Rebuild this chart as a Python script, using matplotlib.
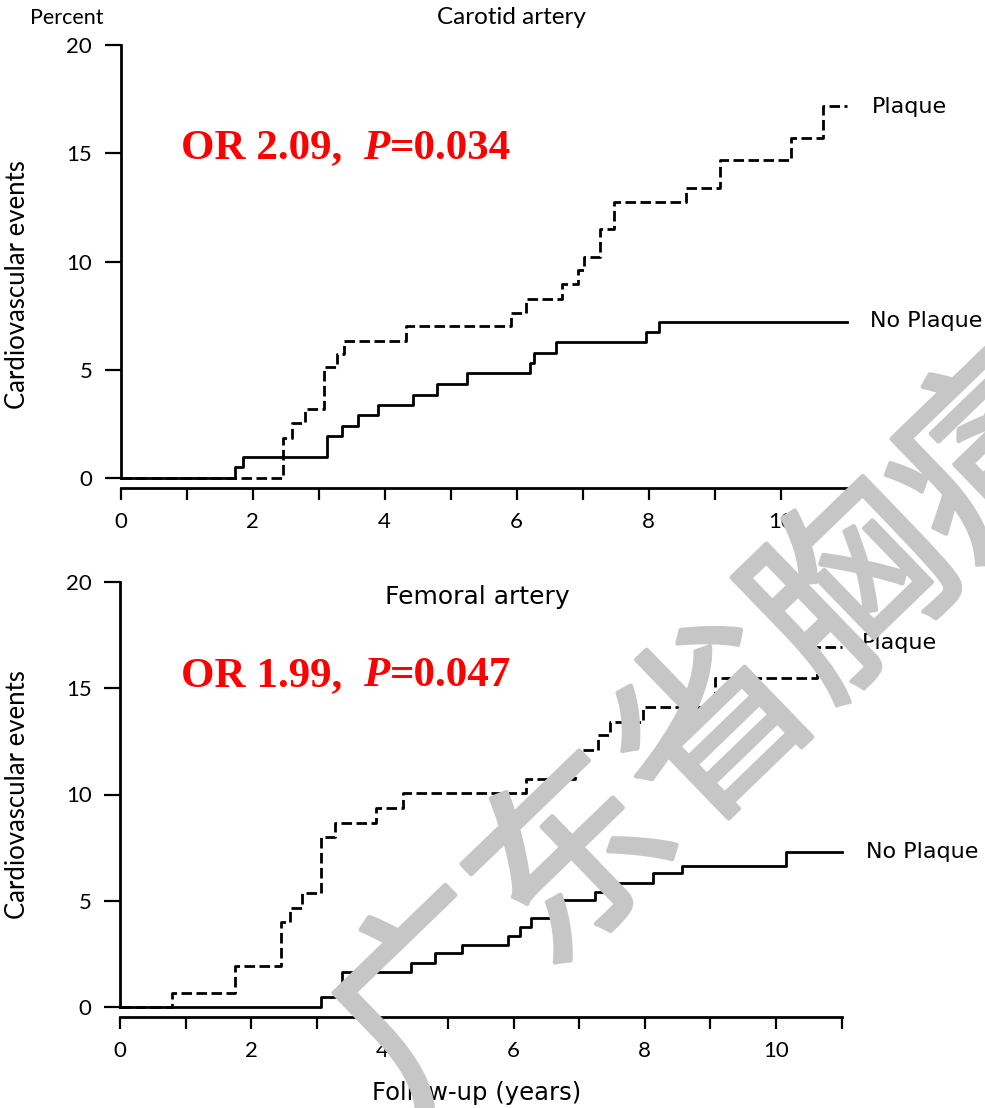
import matplotlib
matplotlib.use("Agg")
import matplotlib.pyplot as plt
import matplotlib.patheffects as pe

# ---------------- data ----------------
carotid_plaque_t = [0, 2.46, 2.59, 2.79, 3.08, 3.28, 3.39, 4.33, 5.92, 6.14, 6.68, 6.93, 7.02,
                    7.26, 7.48, 8.57, 9.08, 10.16, 10.64, 11.0]
carotid_plaque_v = [0, 1.88, 2.55, 3.22, 5.12, 5.74, 6.36, 7.02, 7.62, 8.29, 8.95, 9.6, 10.2,
                    11.5, 12.76, 13.4, 14.7, 15.7, 17.2, 17.2]
carotid_noplaque_t = [0, 1.73, 1.85, 3.12, 3.36, 3.6, 3.9, 4.43, 4.8, 5.24, 6.2, 6.26, 6.6,
                      7.96, 8.15, 11.0]
carotid_noplaque_v = [0, 0.5, 1.0, 1.96, 2.42, 2.92, 3.38, 3.86, 4.35, 4.86, 5.33, 5.8, 6.27,
                      6.73, 7.2, 7.2]

femoral_plaque_t = [0, 0.79, 1.75, 2.46, 2.59, 2.77, 3.07, 3.28, 3.91, 4.32, 6.19, 6.94, 7.01,
                    7.28, 7.47, 7.97, 9.07, 10.63, 11.0]
femoral_plaque_v = [0, 0.64, 1.94, 3.98, 4.64, 5.35, 8.01, 8.67, 9.38, 10.06, 10.72, 11.47, 12.09,
                    12.8, 13.43, 14.13, 15.47, 16.95, 16.95]
femoral_noplaque_t = [0, 3.07, 3.38, 4.43, 4.8, 5.21, 5.92, 6.1, 6.26, 6.58, 6.7, 7.24, 7.5,
                      8.13, 8.56, 10.16, 11.0]
femoral_noplaque_v = [0, 0.48, 1.66, 2.07, 2.53, 2.92, 3.34, 3.75, 4.17, 4.6, 5.04, 5.43, 5.85,
                      6.29, 6.65, 7.31, 7.31]

x_ticks = list(range(0, 12))
x_ticklabels = ["0", "", "2", "", "4", "", "6", "", "8", "", "10", ""]
y_ticks = [0, 5, 10, 15, 20]
y_ticklabels = ["0", "5", "10", "15", "20"]

carotid_stats = ("OR 2.09,", "P", "=0.034")
femoral_stats = ("OR 1.99,", "P", "=0.047")
watermark = "广东省胸痛中心"

# ---------------- figure ----------------
W, H = 985, 1108
fig = plt.figure(figsize=(W / 100, H / 100), dpi=100)

def fx(px):
    return px / W

def fy(py):
    return 1 - py / H

TICK_FONT = "Lato"
LABEL_FONT = "DejaVu Sans"
LW = 2.0
DASH = (0, (3.8, 1.6))

ax1 = fig.add_axes([fx(120.7), fy(478.3), 726 / W, 433.3 / H])
ax2 = fig.add_axes([fx(120.0), fy(1007), 721.6 / W, 425 / H])


def style_axis(ax):
    ax.set_xlim(0, 11)
    ax.set_ylim(0, 20)
    for s in ("top", "right"):
        ax.spines[s].set_visible(False)
    ax.spines["left"].set_linewidth(2.0)
    ax.spines["bottom"].set_linewidth(2.0)
    ax.spines["bottom"].set_position(("outward", 7))
    ax.spines["left"].set_bounds(0, 20)
    ax.spines["bottom"].set_bounds(0, 11)
    ax.set_xticks(x_ticks)
    ax.set_xticklabels(x_ticklabels)
    ax.set_yticks(y_ticks)
    ax.set_yticklabels(y_ticklabels)
    ax.tick_params(axis="y", direction="out", length=11.5, width=1.6, pad=9,
                   labelsize=16)
    ax.tick_params(axis="x", direction="out", length=8.6, width=1.6, pad=9,
                   labelsize=16)
    for lab in ax.get_xticklabels() + ax.get_yticklabels():
        lab.set_fontfamily(TICK_FONT)
    ax.set_ylabel("Cardiovascular events", fontsize=18.5, family=TICK_FONT)


style_axis(ax1)
style_axis(ax2)
ax1.yaxis.set_label_coords(-0.125, 0.446)
ax2.yaxis.set_label_coords(-0.125, 0.5)

# curves
ax1.step(carotid_plaque_t, carotid_plaque_v, where="post", color="black", lw=LW,
         linestyle=DASH, clip_on=False)
ax1.step(carotid_noplaque_t, carotid_noplaque_v, where="post", color="black", lw=LW,
         clip_on=False)
ax2.step(femoral_plaque_t, femoral_plaque_v, where="post", color="black", lw=LW,
         linestyle=DASH, clip_on=False)
ax2.step(femoral_noplaque_t, femoral_noplaque_v, where="post", color="black", lw=LW,
         clip_on=False)

# series labels
ax1.text(11.38, carotid_plaque_v[-1] - 0.05, "Plaque", fontsize=16, family=LABEL_FONT,
         va="center", ha="left", clip_on=False)
ax1.text(11.35, carotid_noplaque_v[-1] + 0.05, "No Plaque", fontsize=16, family=LABEL_FONT,
         va="center", ha="left", clip_on=False)
ax2.text(11.31, femoral_plaque_v[-1] + 0.18, "Plaque", fontsize=16, family=LABEL_FONT,
         va="center", ha="left", clip_on=False)
ax2.text(11.37, femoral_noplaque_v[-1] - 0.02, "No Plaque", fontsize=16, family=LABEL_FONT,
         va="center", ha="left", clip_on=False)

# titles / axis texts
fig.text(fx(30), fy(18), "Percent", fontsize=15.5, family=TICK_FONT, va="center", ha="left")
fig.text(fx(437), fy(17), "Carotid artery", fontsize=17.5, family=TICK_FONT, va="center",
         ha="left")
ax2.text(4.04, 19.3, "Femoral artery", fontsize=18, family=LABEL_FONT, va="center", ha="left")
fig.text(fx(372), fy(1093), "Follow-up (years)", fontsize=17.5, family=LABEL_FONT,
         va="center", ha="left")


# red statistics
def stats_text(ax, x, y, parts):
    kw = dict(fontsize=31, family="Liberation Serif", fontweight="bold", color="#ff0000")
    t1 = ax.text(x, y, parts[0], va="baseline", ha="left", **kw)
    t2 = ax.annotate(parts[1], xy=(1, 0), xycoords=t1, xytext=(15, 0),
                     textcoords="offset points", va="bottom", ha="left",
                     fontstyle="italic", **kw)
    ax.annotate(parts[2], xy=(1, 0), xycoords=t2, xytext=(0.5, 0),
                textcoords="offset points", va="bottom", ha="left", **kw)


stats_text(ax1, 0.914, 14.76, carotid_stats)
stats_text(ax2, 0.93, 15.1, femoral_stats)

# watermark
WM_COLOR = "#c6c6c6"
fig.text(fx(858), fy(596), watermark, fontsize=140, family="Noto Sans CJK SC",
         color=WM_COLOR, rotation=44,
         rotation_mode="anchor", ha="center", va="center", zorder=10,
         path_effects=[pe.withStroke(linewidth=3.2, foreground=WM_COLOR)])

fig.savefig("out.png", dpi=100, facecolor="white")
